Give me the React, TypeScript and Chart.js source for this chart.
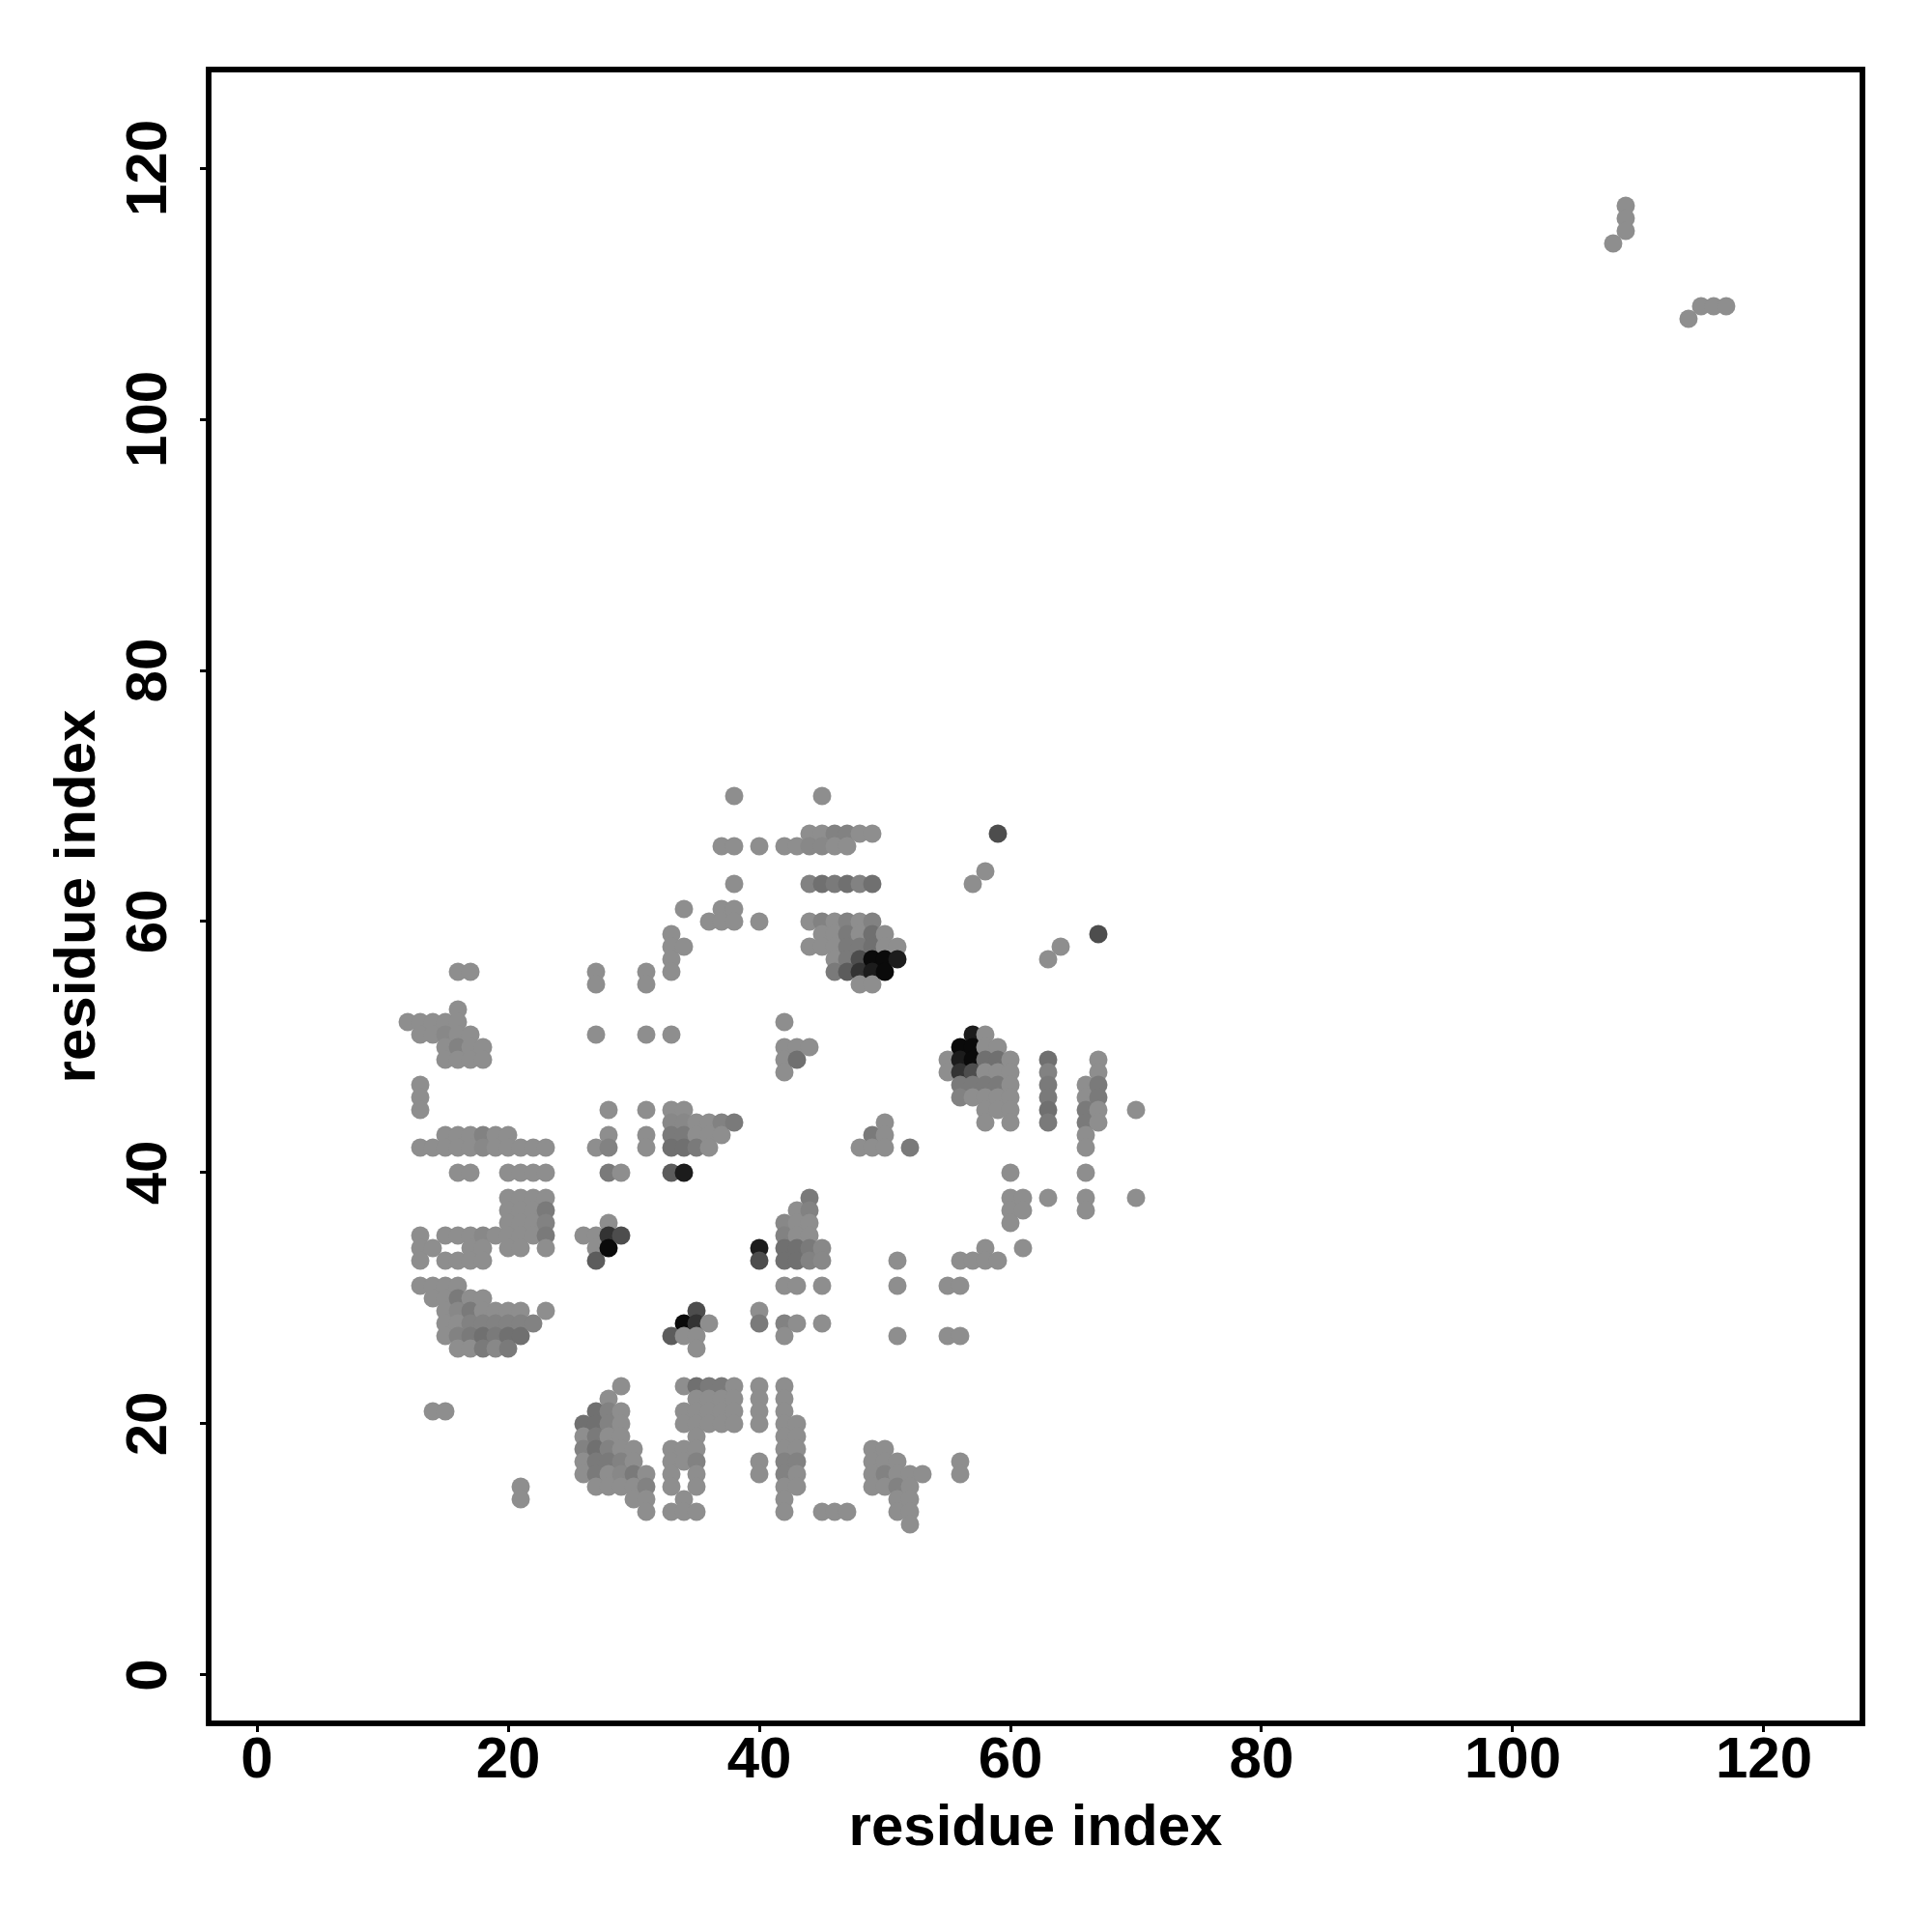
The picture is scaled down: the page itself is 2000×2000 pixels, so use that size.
import React, { useEffect, useRef } from "react";
import { Chart, registerables } from "chart.js";

Chart.register(...registerables);

const xTicks = [0, 20, 40, 60, 80, 100, 120];
const yTicks = [0, 20, 40, 60, 80, 100, 120];
const axisMin = -3.85;
const axisMax = 127.85;
const xTitle = "residue index";
const yTitle = "residue index";

// residue contacts: [y, x values in that row]
const rowsTop: [number, number[]][] = [
  [117, [109]], [116, [109]], [115, [109]], [114, [108]], [109, [115, 116, 117]], [108, [114]],
  [70, [38, 45]],
  [67, [44, 45, 46, 47, 48, 49, 59]],
  [66, [37, 38, 40, 42, 43, 44, 45, 46, 47]],
  [64, [58]],
  [63, [38, 44, 45, 46, 47, 48, 49, 57]],
  [61, [34, 37, 38]],
  [60, [36, 37, 38, 40, 44, 45, 46, 47, 48, 49]],
  [59, [33, 45, 46, 47, 48, 49, 50, 67]],
  [58, [33, 34, 44, 45, 46, 47, 48, 49, 50, 51, 64]],
  [57, [33, 46, 47, 48, 49, 50, 51, 63]],
  [56, [16, 17, 27, 31, 33, 46, 47, 48, 49, 50]],
  [55, [27, 31, 48, 49]],
];
const rowsMiddle: [number, number[]][] = [
  [53, [16]],
  [52, [12, 13, 14, 15, 16, 42]],
  [51, [13, 14, 15, 16, 17, 27, 31, 33, 57, 58]],
  [50, [15, 16, 17, 18, 42, 43, 44, 56, 57, 58, 59]],
  [49, [15, 16, 17, 18, 42, 43, 55, 56, 57, 58, 59, 60, 63, 67]],
  [48, [42, 55, 56, 57, 58, 59, 60, 63, 67]],
  [47, [13, 56, 57, 58, 59, 60, 63, 66, 67]],
  [46, [13, 56, 57, 58, 59, 60, 63, 66, 67]],
  [45, [13, 28, 31, 33, 34, 58, 59, 60, 63, 66, 67, 70]],
  [44, [33, 34, 35, 36, 37, 38, 50, 58, 60, 63, 66, 67]],
  [43, [15, 16, 17, 18, 19, 20, 28, 31, 33, 34, 35, 36, 37, 49, 50, 66]],
  [42, [13, 14, 15, 16, 17, 18, 19, 20, 21, 22, 23, 27, 28, 31, 33, 34, 35, 36, 48, 49, 50, 52, 66]],
  [40, [16, 17, 20, 21, 22, 23, 28, 29, 33, 34, 60, 66]],
  [38, [20, 21, 22, 23, 44, 60, 61, 63, 66, 70]],
  [37, [20, 21, 22, 23, 43, 44, 60, 61, 66]],
  [36, [20, 21, 22, 23, 28, 42, 43, 44, 60]],
  [35, [13, 15, 16, 17, 18, 19, 20, 21, 22, 23, 26, 27, 28, 29, 42, 43, 44]],
  [34, [13, 14, 17, 18, 20, 21, 23, 27, 28, 40, 42, 43, 44, 45, 58, 61]],
  [33, [13, 15, 16, 17, 18, 27, 40, 42, 43, 44, 45, 51, 56, 57, 58, 59]],
];
const rowsBottom: [number, number[]][] = [
  [31, [13, 14, 15, 16, 42, 43, 45, 51, 55, 56]],
  [30, [14, 15, 16, 17, 18]],
  [29, [15, 16, 17, 18, 19, 20, 21, 23, 35, 40]],
  [28, [15, 16, 17, 18, 19, 20, 21, 22, 34, 35, 36, 40, 42, 43, 45]],
  [27, [15, 16, 17, 18, 19, 20, 21, 33, 34, 35, 42, 51, 55, 56]],
  [26, [16, 17, 18, 19, 20, 35]],
  [23, [29, 34, 35, 36, 37, 38, 40, 42]],
  [22, [28, 35, 36, 37, 38, 40, 42]],
  [21, [14, 15, 27, 28, 29, 34, 35, 36, 37, 38, 40, 42]],
  [20, [26, 27, 28, 29, 34, 35, 36, 37, 38, 40, 42, 43]],
  [19, [26, 27, 28, 29, 35, 42, 43]],
  [18, [26, 27, 28, 29, 30, 33, 34, 35, 42, 43, 49, 50]],
  [17, [26, 27, 28, 29, 30, 33, 34, 35, 40, 42, 43, 49, 50, 51, 56]],
  [16, [26, 27, 28, 29, 30, 31, 33, 35, 40, 42, 43, 49, 50, 51, 52, 53, 56]],
  [15, [21, 27, 28, 29, 30, 31, 33, 35, 42, 43, 49, 50, 51, 52]],
  [14, [21, 30, 31, 34, 42, 51, 52]],
  [13, [31, 33, 34, 35, 42, 45, 46, 47, 51, 52]],
  [12, [52]],
];

// grey level of the darker contacts, [x, y]; the others use baseGrey
const baseGrey = "#8e8e8e";
const grey0a: number[][] = [[28, 34], [34, 28], [49, 57], [50, 57], [50, 56], [56, 50], [57, 50], [57, 49]];
const grey1a: number[][] = [[51, 57], [57, 51], [56, 49], [40, 34], [34, 40], [49, 56]];
const grey33: number[][] = [[28, 35], [35, 28], [56, 48], [48, 56]];
const grey4d: number[][] = [[29, 35], [35, 29], [59, 67], [67, 59], [57, 48], [48, 57], [40, 33]];
const grey5a: number[][] = [[33, 40], [27, 33], [33, 27], [47, 56]];
const grey6a: number[][] = [
  [63, 49], [63, 45], [49, 63], [49, 59], [49, 58], [59, 49], [58, 49], [43, 49], [45, 63], [47, 63], [33, 42], [34, 42],
  [42, 34], [43, 34], [42, 33], [43, 33], [18, 27], [20, 27], [21, 27], [27, 21], [27, 20], [27, 18], [35, 23], [26, 20],
];
const grey77: number[][] = [
  [63, 47], [63, 46], [63, 44], [66, 45], [66, 44], [67, 47], [67, 46], [59, 47], [56, 47], [57, 47], [58, 47], [46, 56],
  [47, 59], [47, 58], [48, 58], [47, 57], [46, 63], [28, 40], [49, 43], [52, 42], [35, 42], [33, 43], [34, 43], [38, 44],
  [44, 34], [44, 38], [40, 28], [23, 37], [23, 35], [16, 30], [17, 29], [17, 27], [19, 27], [18, 26], [20, 26], [27, 19],
  [27, 17], [27, 16], [28, 17], [30, 16], [36, 23], [37, 23],
];
const grey80: number[][] = [
  [63, 48], [56, 46], [49, 60], [44, 63], [48, 63], [46, 67], [47, 67], [45, 60], [47, 60], [28, 42], [37, 44], [44, 33],
  [44, 37], [42, 35], [42, 28], [23, 36], [16, 27], [17, 28], [18, 28], [19, 28], [20, 28], [21, 28], [22, 28], [26, 18],
  [28, 21], [28, 20], [28, 18], [29, 17], [31, 15], [35, 17], [42, 17], [42, 16], [43, 17], [50, 16], [51, 15], [16, 50], [18, 43],
];
const grey86: number[][] = [
  [44, 66], [45, 66], [33, 44], [34, 44], [45, 33], [45, 34], [42, 36], [18, 35], [16, 29], [19, 26], [29, 16], [15, 51], [18, 42],
];
const shadeTable: [string, number[][]][] = [
  ["#0a0a0a", grey0a], ["#1c1c1c", grey1a], ["#333333", grey33], ["#4d4d4d", grey4d], ["#5c5c5c", grey5a],
  ["#707070", grey6a], ["#7a7a7a", grey77], ["#828282", grey80], ["#888888", grey86],
];

const allPoints = [...rowsTop, ...rowsMiddle, ...rowsBottom]
  .flatMap(([y, xs]) => xs.map((x) => ({ x, y })))
  .sort((a, b) => a.x - b.x || b.y - a.y);

function shadeOf(p: { x: number; y: number }) {
  for (const [colour, list] of shadeTable) {
    if (list.some(([x, y]) => x === p.x && y === p.y)) return colour;
  }
  return baseGrey;
}

const FONT = "'Liberation Sans', Arial, sans-serif";

const framePlugin = {
  id: "frame",
  afterDatasetsDraw(chart: any) {
    const { ctx, chartArea: a } = chart;
    ctx.save();
    ctx.strokeStyle = "#000";
    ctx.lineWidth = 5.8;
    ctx.lineJoin = "miter";
    ctx.strokeRect(a.left, a.top, a.right - a.left, a.bottom - a.top);
    ctx.restore();
  },
};

export default function App() {
  const ref = useRef<HTMLCanvasElement>(null);
  useEffect(() => {
    document.body.style.margin = "0";
    const chart = new Chart(ref.current as HTMLCanvasElement, {
      type: "scatter",
      data: {
        datasets: [
          {
            data: allPoints,
            pointRadius: 9.5,
            pointBorderWidth: 0,
            pointBackgroundColor: allPoints.map(shadeOf),
            showLine: false,
          },
        ],
      },
      options: {
        responsive: false,
        animation: false,
        layout: { padding: { top: 72, right: 72, left: 0, bottom: 0 } },
        plugins: { legend: { display: false }, tooltip: { enabled: false }, title: { display: false } },
        scales: {
          x: {
            type: "linear",
            min: axisMin,
            max: axisMax,
            afterBuildTicks: (s: any) => { s.ticks = xTicks.map((value) => ({ value })); },
            afterFit: (s: any) => { s.height = 216; },
            border: { display: false },
            grid: { drawOnChartArea: false, tickLength: 9, tickWidth: 3, tickColor: "#000" },
            ticks: {
              color: "#000",
              maxRotation: 0,
              autoSkip: false,
              padding: -6,
              font: { family: FONT, size: 60, weight: "bold" },
            },
            title: {
              display: true,
              text: xTitle,
              color: "#000",
              padding: { top: 0, bottom: 71 },
              font: { family: FONT, size: 60, weight: "bold" },
            },
          },
          y: {
            type: "linear",
            min: axisMin,
            max: axisMax,
            afterBuildTicks: (s: any) => { s.ticks = yTicks.map((value) => ({ value })); },
            afterFit: (s: any) => { s.width = 216; },
            border: { display: false },
            grid: { drawOnChartArea: false, tickLength: 9, tickWidth: 3, tickColor: "#000" },
            ticks: {
              color: "#000",
              minRotation: 90,
              maxRotation: 90,
              autoSkip: false,
              crossAlign: "center",
              padding: 1,
              font: { family: FONT, size: 60, weight: "bold" },
            },
            title: {
              display: true,
              text: yTitle,
              color: "#000",
              padding: { top: 45, bottom: 0 },
              font: { family: FONT, size: 60, weight: "bold" },
            },
          },
        },
      },
      plugins: [framePlugin],
    } as any);
    return () => chart.destroy();
  }, []);
  return <canvas ref={ref} width={2000} height={2000} style={{ display: "block" }} />;
}
